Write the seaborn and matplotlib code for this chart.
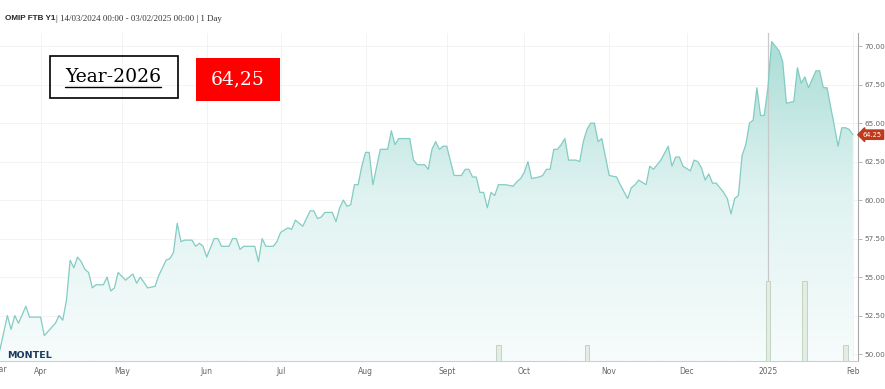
#!/usr/bin/env python3
# -*- coding: utf-8 -*-

# import modules
import numpy as np
import matplotlib
matplotlib.use("Agg")
import matplotlib.pyplot as plt
from matplotlib.colors import LinearSegmentedColormap
from matplotlib.patches import PathPatch, Rectangle
from matplotlib.lines import Line2D
import matplotlib.transforms as mtransforms
import seaborn as sns
sns.set_style("white")

# daily settlement, OMIP FTB Y1 (Year-2026)
dates = [
    "2024-03-14", "2024-03-15", "2024-03-19", "2024-03-20", "2024-03-21", "2024-03-22",
    "2024-03-26", "2024-03-27", "2024-04-01", "2024-04-02", "2024-04-05", "2024-04-08",
    "2024-04-09", "2024-04-10", "2024-04-11", "2024-04-12", "2024-04-15", "2024-04-16",
    "2024-04-17", "2024-04-18", "2024-04-19", "2024-04-22", "2024-04-24", "2024-04-25",
    "2024-04-26", "2024-04-29", "2024-04-30", "2024-05-02", "2024-05-06", "2024-05-07",
    "2024-05-08", "2024-05-10", "2024-05-14", "2024-05-15", "2024-05-17", "2024-05-20",
    "2024-05-21", "2024-05-22", "2024-05-23", "2024-05-24", "2024-05-28", "2024-05-29",
    "2024-05-30", "2024-05-31", "2024-06-03", "2024-06-05", "2024-06-06", "2024-06-07",
    "2024-06-11", "2024-06-12", "2024-06-13", "2024-06-14", "2024-06-17", "2024-06-20",
    "2024-06-21", "2024-06-24", "2024-06-25", "2024-06-27", "2024-06-28", "2024-07-01",
    "2024-07-03", "2024-07-04", "2024-07-05", "2024-07-08", "2024-07-09", "2024-07-11",
    "2024-07-12", "2024-07-15", "2024-07-16", "2024-07-17", "2024-07-19", "2024-07-22",
    "2024-07-23", "2024-07-24", "2024-07-25", "2024-07-26", "2024-07-29", "2024-07-30",
    "2024-07-31", "2024-08-01", "2024-08-02", "2024-08-05", "2024-08-07", "2024-08-09",
    "2024-08-12", "2024-08-13", "2024-08-14", "2024-08-19", "2024-08-20", "2024-08-21",
    "2024-08-23", "2024-08-26", "2024-08-27", "2024-08-28", "2024-08-29", "2024-08-30",
    "2024-09-02", "2024-09-04", "2024-09-06", "2024-09-09", "2024-09-10", "2024-09-11",
    "2024-09-12", "2024-09-13", "2024-09-16", "2024-09-17", "2024-09-18", "2024-09-19",
    "2024-09-20", "2024-09-24", "2024-09-26", "2024-09-27", "2024-09-30", "2024-10-01",
    "2024-10-02", "2024-10-03", "2024-10-07", "2024-10-08", "2024-10-09", "2024-10-10",
    "2024-10-11", "2024-10-14", "2024-10-15", "2024-10-16", "2024-10-17", "2024-10-21",
    "2024-10-22", "2024-10-23", "2024-10-24", "2024-10-25", "2024-10-28", "2024-10-29",
    "2024-10-30", "2024-10-31", "2024-11-01", "2024-11-05", "2024-11-06", "2024-11-08",
    "2024-11-11", "2024-11-12", "2024-11-13", "2024-11-15", "2024-11-18", "2024-11-19",
    "2024-11-21", "2024-11-25", "2024-11-26", "2024-11-27", "2024-11-28", "2024-11-29",
    "2024-12-03", "2024-12-04", "2024-12-05", "2024-12-06", "2024-12-09", "2024-12-10",
    "2024-12-11", "2024-12-12", "2024-12-16", "2024-12-17", "2024-12-18", "2024-12-19",
    "2024-12-20", "2024-12-23", "2024-12-24", "2024-12-25", "2024-12-26", "2024-12-27",
    "2024-12-30", "2024-12-31", "2025-01-01", "2025-01-02", "2025-01-06", "2025-01-07",
    "2025-01-08", "2025-01-10", "2025-01-13", "2025-01-14", "2025-01-15", "2025-01-16",
    "2025-01-20", "2025-01-21", "2025-01-22", "2025-01-23", "2025-01-27", "2025-01-28",
    "2025-01-29", "2025-01-30", "2025-01-31", "2025-02-03",
]
prices = [
    49.9, 50.3, 52.5, 51.6, 52.5, 52.0,
    53.1, 52.4, 52.4, 51.2, 52.0, 52.5,
    52.2, 53.5, 56.1, 55.6, 56.3, 56.0,
    55.5, 55.3, 54.3, 54.5, 54.5, 55.0,
    54.1, 54.3, 55.3, 54.8, 55.2, 54.6,
    55.0, 54.3, 54.4, 55.1, 56.1, 56.2,
    56.6, 58.5, 57.3, 57.4, 57.4, 57.0,
    57.2, 57.0, 56.3, 57.5, 57.5, 57.0,
    57.0, 57.5, 57.5, 56.8, 57.0, 57.0,
    56.0, 57.5, 57.0, 57.0, 57.3, 57.9,
    58.2, 58.1, 58.7, 58.5, 58.3, 59.3,
    59.3, 58.8, 58.9, 59.2, 59.2, 58.6,
    59.5, 60.0, 59.6, 59.7, 61.0, 61.0,
    62.2, 63.1, 63.1, 61.0, 63.3, 63.3,
    64.5, 63.6, 64.0, 64.0, 62.6, 62.3,
    62.3, 62.0, 63.3, 63.8, 63.3, 63.5,
    63.5, 61.6, 61.6, 62.0, 62.0, 61.5,
    61.5, 60.5, 60.5, 59.5, 60.5, 60.3,
    61.0, 61.0, 60.9, 61.2, 61.4, 61.8,
    62.5, 61.4, 61.5, 61.6, 62.0, 62.0,
    63.3, 63.3, 63.6, 64.0, 62.6, 62.6,
    62.5, 63.8, 64.6, 65.0, 65.0, 63.8,
    64.0, 62.8, 61.6, 61.5, 61.0, 60.1,
    60.8, 61.0, 61.3, 61.0, 62.2, 62.0,
    62.6, 63.5, 62.2, 62.8, 62.8, 62.2,
    61.9, 62.6, 62.5, 62.1, 61.3, 61.7,
    61.1, 61.1, 60.5, 60.1, 59.1, 60.1,
    60.3, 62.9, 63.6, 65.0, 65.2, 67.3,
    65.5, 65.5, 67.3, 70.3, 69.7, 69.0,
    66.3, 66.4, 68.6, 67.6, 68.0, 67.3,
    68.4, 68.4, 67.3, 67.3, 64.8, 63.5,
    64.7, 64.7, 64.6, 64.25,
]

# traded volume bars at the bottom
vol_dates = ["2024-09-20", "2024-10-24", "2025-01-01", "2025-01-15", "2025-01-30"]
volumes = [1, 1, 5, 5, 1]

# axis labels
month_dates = ["2024-03-14", "2024-04-01", "2024-05-01", "2024-06-01", "2024-07-01",
               "2024-08-01", "2024-09-01", "2024-10-01", "2024-11-01", "2024-12-01",
               "2025-01-01", "2025-02-01"]
month_labels = ["Mar", "Apr", "May", "Jun", "Jul", "Aug", "Sept", "Oct", "Nov", "Dec",
                "2025", "Feb"]
y_ticks = [50.0, 52.5, 55.0, 57.5, 60.0, 62.5, 65.0, 67.5, 70.0]

last_price = 64.25
header_bold = "OMIP FTB Y1"
header_rest = "| 14/03/2024 00:00 - 03/02/2025 00:00 | 1 Day"
box_title = "Year-2026"
box_value = "64,25"

# ordinal (trading day) x axis like the stock chart
start = np.datetime64(dates[0])
x = np.busday_count(start, np.array(dates, dtype="datetime64[D]"))
xv = np.busday_count(start, np.array(vol_dates, dtype="datetime64[D]"))
xt = np.busday_count(start, np.busday_offset(np.array(month_dates, dtype="datetime64[D]"), 0, roll="forward"))

y_lo, y_hi = 49.55, 70.85
x_lo, x_hi = 1.0, 233.4

fig = plt.figure(figsize=(8.85, 3.89), dpi=100)
ax = fig.add_axes([0.0, 0.072, 0.9695, 0.843])

# volume on its own hidden axis (made first so the price axis keeps right ticks)
ax2 = ax.twinx()
ax2.bar(xv, volumes, width=1.3, color="#e3ede3", edgecolor="#bccdbc", lw=0.6, zorder=2)
ax2.set_ylim(0, 20.5)
ax2.set_axis_off()

# gradient area under the line
poly = ax.fill_between(x, prices, y_lo, color="none", lw=0)
clip = PathPatch(poly.get_paths()[0], transform=ax.transData, facecolor="none", edgecolor="none")
ax.add_patch(clip)
cmap = LinearSegmentedColormap.from_list("fade", ["#f7fcfc", "#e0f3f1", "#a8dcd5"])
grad = np.linspace(0, 1, 256).reshape(-1, 1)
img = ax.imshow(grad, extent=[x_lo, x_hi, y_lo, y_hi], origin="lower", aspect="auto",
                cmap=cmap, zorder=1)
img.set_clip_path(clip)

sns.lineplot(x=x, y=prices, ax=ax, color="#82ccc3", lw=0.9, zorder=3)

# year separator
ax.axvline(xt[month_labels.index("2025")], color="#c8c8c8", lw=0.9, zorder=2)

ax.set_xlim(x_lo, x_hi)
ax.set_ylim(y_lo, y_hi)
ax2.set_xlim(x_lo, x_hi)
ax.set_xticks(xt[1:])
ax.set_xticklabels(month_labels[1:])
ax.set_yticks(y_ticks)
ax.set_yticklabels([f"{v:.2f}" for v in y_ticks])
ax.yaxis.tick_right()
ax.yaxis.set_label_position("right")
ax.tick_params(axis="x", length=3, width=0.6, color="#ccd6eb", labelsize=5.5,
               labelcolor="#666666", pad=1.5)
ax.tick_params(axis="y", length=3, width=0.6, color="#aaaaaa", labelsize=5.2,
               labelcolor="#666666", pad=1.5)
ax.grid(True, color="#f1f1f1", lw=0.6)
ax.set_axisbelow(True)
for s in ["top", "left"]:
    ax.spines[s].set_visible(False)
ax.spines["bottom"].set_color("#c6cfdf")
ax.spines["bottom"].set_linewidth(0.8)
ax.spines["right"].set_color("#a8a8a8")
ax.spines["right"].set_linewidth(0.8)
ax.set_xlabel("")
ax.set_ylabel("")

# first month label sits at the left edge, partly cut as in the stock chart
trans = mtransforms.blended_transform_factory(ax.transData, ax.transAxes)
ax.text(xt[0] + 0.9, -0.012, month_labels[0], transform=trans, ha="center", va="top",
        fontsize=5.5, color="#666666", clip_on=False)

# last price badge
ax.annotate(f"{last_price:.2f}", xy=(1, last_price), xycoords=("axes fraction", "data"),
            xytext=(3.5, 0), textcoords="offset points", ha="left", va="center",
            color="white", fontsize=4.8,
            bbox=dict(boxstyle="larrow,pad=0.25", fc="#c0391b", ec="#c0391b"))

# header
fig.text(5 / 885, 1 - 19 / 389, header_bold, fontsize=5.9, fontweight="bold",
         family="Liberation Sans", va="center", ha="left")
fig.text(56.5 / 885, 1 - 19 / 389, header_rest, fontsize=6.4, family="Liberation Serif",
         va="center", ha="left", color="#333333")

# logo
fig.text(7 / 885, 1 - 355 / 389, "MONTEL", fontsize=6.8, fontweight="heavy",
         color="#1d3a5f", family="DejaVu Sans", va="center", ha="left")

# Year-2026 box
fig.patches.append(Rectangle((50 / 885, 1 - 98 / 389), 128 / 885, 42 / 389,
                             transform=fig.transFigure, fill=False, ec="black", lw=1.2))
fig.text(113 / 885, 1 - 77 / 389, box_title, fontsize=13.5, family="DejaVu Serif",
         va="center", ha="center", color="black")
fig.lines.append(Line2D([65 / 885, 161 / 885], [1 - 87 / 389, 1 - 87 / 389],
                        transform=fig.transFigure, color="black", lw=1.0))

# value box
fig.patches.append(Rectangle((196 / 885, 1 - 101 / 389), 84 / 885, 43 / 389,
                             transform=fig.transFigure, fc="#ff0000", ec="none"))
fig.text(238 / 885, 1 - 79 / 389, box_value, fontsize=13.5, family="DejaVu Serif",
         va="center", ha="center", color="white")

fig.savefig("out.png", dpi=100)
